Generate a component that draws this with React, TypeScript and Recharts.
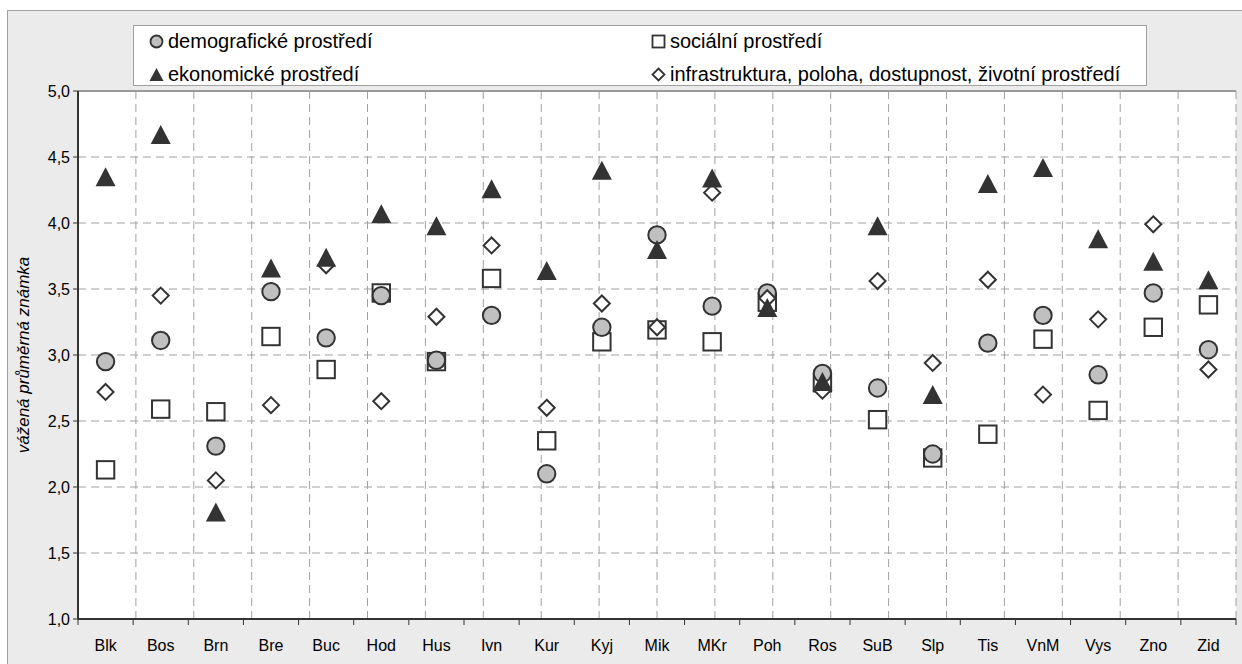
import React from "react";
import {
  ComposedChart,
  Scatter,
  XAxis,
  YAxis,
  CartesianGrid,
  ReferenceLine,
} from "recharts";

const obce = ["Blk", "Bos", "Brn", "Bre", "Buc", "Hod", "Hus", "Ivn", "Kur", "Kyj", "Mik", "MKr", "Poh", "Ros", "SuB", "Slp", "Tis", "VnM", "Vys", "Zno", "Zid"];
const demograficke = [2.95, 3.11, 2.31, 3.48, 3.13, 3.45, 2.96, 3.3, 2.1, 3.21, 3.91, 3.37, 3.47, 2.86, 2.75, 2.25, 3.09, 3.3, 2.85, 3.47, 3.04];
const socialni = [2.13, 2.59, 2.57, 3.14, 2.89, 3.47, 2.95, 3.58, 2.35, 3.1, 3.19, 3.1, 3.4, 2.79, 2.51, 2.22, 2.4, 3.12, 2.58, 3.21, 3.38];
const ekonomicke = [4.35, 4.67, 1.81, 3.66, 3.74, 4.07, 3.98, 4.26, 3.64, 4.4, 3.8, 4.34, 3.36, 2.8, 3.98, 2.7, 4.3, 4.42, 3.88, 3.71, 3.57];
const infrastruktura = [2.72, 3.45, 2.05, 2.62, 3.68, 2.65, 3.29, 3.83, 2.6, 3.39, 3.21, 4.23, 3.43, 2.73, 3.56, 2.94, 3.57, 2.7, 3.27, 3.99, 2.89];
const yTicks = [1, 1.5, 2, 2.5, 3, 3.5, 4, 4.5, 5];
const hranice = obce.map((_, i) => i).concat([obce.length]);

const data = obce.map((name, i) => ({
  name,
  demo: demograficke[i],
  soc: socialni[i],
  eko: ekonomicke[i],
  infra: infrastruktura[i],
}));

const FONT = '"Liberation Sans", Arial, sans-serif';
const DARK = "#333";

const Kruh = (p: any) => (
  <circle cx={p.cx} cy={p.cy} r={8.7} fill="#c0c0c0" stroke={DARK} strokeWidth={2} />
);
const Ctverec = (p: any) => (
  <rect x={p.cx - 8.7} y={p.cy - 8.7} width={17.4} height={17.4} fill="#fff" stroke={DARK} strokeWidth={2} />
);
const Trojuhelnik = (p: any) => (
  <polygon
    points={`${p.cx},${p.cy - 9.5} ${p.cx + 10},${p.cy + 9.5} ${p.cx - 10},${p.cy + 9.5}`}
    fill={DARK}
  />
);
const Kosoctverec = (p: any) => (
  <polygon
    points={`${p.cx},${p.cy - 8} ${p.cx + 8},${p.cy} ${p.cx},${p.cy + 8} ${p.cx - 8},${p.cy}`}
    fill="#fff"
    stroke={DARK}
    strokeWidth={2}
  />
);

const XTick = (props: any) => {
  const { x, y, payload, index, visibleTicksCount, width } = props;
  const half = width / visibleTicksCount / 2;
  return (
    <g>
      <line x1={x - half} x2={x - half} y1={y} y2={y + 6} stroke={DARK} />
      {index === visibleTicksCount - 1 && (
        <line x1={x + half} x2={x + half} y1={y} y2={y + 6} stroke={DARK} />
      )}
      <text x={x} y={y + 32} textAnchor="middle" fontSize={16} fill="#000" fontFamily={FONT}>
        {payload.value}
      </text>
    </g>
  );
};

const legendItems = [
  { label: "demografické prostředí", shape: "circle", left: 15, top: 5 },
  { label: "sociální prostředí", shape: "square", left: 517, top: 5 },
  { label: "ekonomické prostředí", shape: "triangle", left: 15, top: 38 },
  { label: "infrastruktura, poloha, dostupnost, životní prostředí", shape: "diamond", left: 517, top: 38 },
];

const LegendMarker = ({ shape }: { shape: string }) => (
  <svg width={15} height={15} style={{ marginRight: 4 }}>
    {shape === "circle" && <circle cx={7.5} cy={7.5} r={6} fill="#c0c0c0" stroke={DARK} strokeWidth={1.8} />}
    {shape === "square" && <rect x={1.5} y={1.5} width={12} height={12} fill="#fff" stroke={DARK} strokeWidth={1.8} />}
    {shape === "triangle" && <polygon points="7.5,1 14.5,14 0.5,14" fill={DARK} />}
    {shape === "diamond" && <polygon points="7.5,1.5 13.5,7.5 7.5,13.5 1.5,7.5" fill="#fff" stroke={DARK} strokeWidth={1.8} />}
  </svg>
);

export default function App() {
  return (
    <div style={{ position: "absolute", left: 0, top: 0, width: 1242, height: 664, background: "#fff", fontFamily: FONT }}>
      <div
        style={{
          position: "absolute",
          left: 7,
          top: 10,
          width: 1235,
          height: 654,
          background: "#ebebeb",
          borderLeft: "1px solid #a0a0a0",
          borderTop: "1px solid #a0a0a0",
          boxSizing: "border-box",
        }}
      />
      <div style={{ position: "absolute", left: 7, top: 10 }}>
        <ComposedChart width={1235} height={654} data={data} margin={{ top: 81, right: 6, bottom: 0, left: 0 }}>
          <CartesianGrid xAxisId="hr" fill="#fff" stroke="#a0a0a0" strokeDasharray="8 5" />
          <XAxis
            dataKey="name"
            type="category"
            scale="band"
            height={45}
            tickLine={false}
            tickSize={0}
            tickMargin={0}
            interval={0}
            axisLine={{ stroke: DARK, strokeWidth: 2 }}
            tick={<XTick />}
          />
          <XAxis xAxisId="hr" type="number" domain={[0, obce.length]} ticks={hranice} hide />
          <YAxis
            type="number"
            domain={[1, 5]}
            ticks={yTicks}
            width={71}
            interval={0}
            tickSize={5}
            tickMargin={3}
            tickLine={{ stroke: DARK }}
            axisLine={{ stroke: DARK, strokeWidth: 2 }}
            tick={{ fontSize: 16, fill: "#000", fontFamily: FONT }}
            tickFormatter={(v: number) => v.toFixed(1).replace(".", ",")}
            label={{
              content: (p: any) => {
                const vb = p.viewBox;
                const cx = vb.x + 16;
                const cy = vb.y + vb.height / 2;
                return (
                  <text
                    x={cx}
                    y={cy}
                    transform={`rotate(-90 ${cx} ${cy})`}
                    textAnchor="middle"
                    dominantBaseline="central"
                    fontSize={17}
                    fontStyle="italic"
                    fontFamily={FONT}
                    fill="#000"
                  >
                    vážená průměrná známka
                  </text>
                );
              },
            }}
          />
          <ReferenceLine y={5} stroke="#999" strokeWidth={2} />
          <ReferenceLine xAxisId="hr" x={obce.length} stroke="#999" strokeWidth={2} />
          <Scatter dataKey="soc" shape={Ctverec} isAnimationActive={false} />
          <Scatter dataKey="demo" shape={Kruh} isAnimationActive={false} />
          <Scatter dataKey="infra" shape={Kosoctverec} isAnimationActive={false} />
          <Scatter dataKey="eko" shape={Trojuhelnik} isAnimationActive={false} />
        </ComposedChart>
      </div>
      <div
        style={{
          position: "absolute",
          left: 133,
          top: 25,
          width: 1014,
          height: 61,
          background: "#fff",
          border: "1px solid #a0a0a0",
          boxSizing: "border-box",
        }}
      >
        {legendItems.map((it) => (
          <div
            key={it.label}
            style={{
              position: "absolute",
              left: it.left,
              top: it.top,
              height: 20,
              display: "flex",
              alignItems: "center",
              fontSize: 20,
              color: "#000",
              whiteSpace: "nowrap",
            }}
          >
            <LegendMarker shape={it.shape} />
            {it.label}
          </div>
        ))}
      </div>
    </div>
  );
}
